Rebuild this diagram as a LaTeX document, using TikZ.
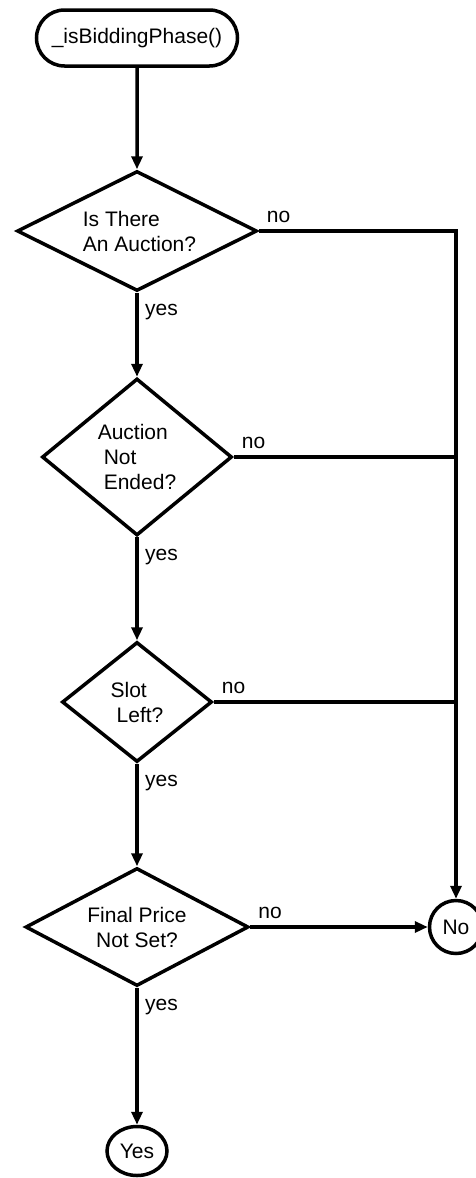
\documentclass[tikz,border=0pt]{standalone}
\usepackage{fontspec}
\setmainfont{Liberation Sans}
\usetikzlibrary{shapes.geometric,shapes.misc,arrows.meta}
\begin{document}
\begin{tikzpicture}[x=1pt,y=-1pt,
  every node/.style={font=\fontsize{21}{25}\selectfont},
  base/.style={draw, line width=3.5pt, inner sep=0pt},
  term/.style={base, rounded rectangle, minimum width=201pt, minimum height=56pt},
  decision/.style={base, diamond, align=left},
  endpt/.style={base, ellipse},
  flow/.style={line width=3.5pt},
  arr/.style={flow, -{Triangle[length=13pt,width=11pt]}},
  lbl/.style={inner sep=0pt, anchor=base west}
]
\useasboundingbox (0,0) rectangle (476,1178);
\fill[white] (0,0) rectangle (476,1178);
\clip (0,0) rectangle (476,1178);

% start terminal
\node[term] (start) at (137,38) {\_isBiddingPhase()};

% decisions
\node[decision, aspect=2, minimum width=240pt, minimum height=120pt] (d1) at (137,231)
  {\hspace*{5pt}Is There\\\hspace*{5pt}An Auction?};
\node[decision, minimum width=190pt, minimum height=157pt] (d2) at (137,457)
  {Auction\\\hspace*{6pt}Not\\\hspace*{6pt}Ended?};
\node[decision, minimum width=150pt, minimum height=120pt] (d3) at (137,702)
  {Slot\\\hspace*{6pt}Left?};
\node[decision, aspect=1.9, align=center, minimum width=223pt, minimum height=118pt] (d4) at (137,927)
  {Final Price\\Not Set?};

% outcomes
\node[endpt, circle, minimum size=53pt] (no) at (456,927) {No};
\node[endpt, minimum width=60pt, minimum height=49pt] (yes) at (137,1151) {Yes};

% main flow
\draw[arr] (start) -- (d1);
\draw[arr] (d1) -- (d2);
\draw[arr] (d2) -- (d3);
\draw[arr] (d3) -- (d4);
\draw[arr] (d4) -- (yes);

% "no" branches
\draw[arr] (d1.east) -| (no.north);
\draw[flow] (d2.east) -- (d2.east -| no.north);
\draw[flow] (d3.east) -- (d3.east -| no.north);
\draw[arr] (d4) -- (no);

% branch labels
\foreach \d in {d1,d2,d3,d4}{
  \node[lbl] at ([xshift=8pt,yshift=-23pt]\d.south) {yes};
  \node[lbl] at ([xshift=8pt,yshift=9pt]\d.east) {no};
}
\end{tikzpicture}
\end{document}
